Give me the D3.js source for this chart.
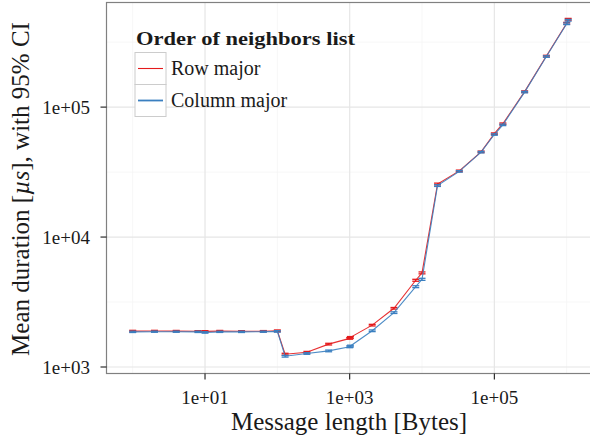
<!DOCTYPE html>
<html>
<head>
<meta charset="utf-8">
<script src="https://cdn.jsdelivr.net/npm/d3@7"></script>
<style>
  body { margin: 0; background: #fff; }
  text { font-family: "Liberation Serif", "Times New Roman", serif; fill: #1a1a1a; }
</style>
</head>
<body>
<div id="chart"></div>
<script>
// message sizes in bytes (powers of two and powers of ten)
const msgLen = [1, 2, 4, 8, 10, 16, 32, 64, 100, 128, 256, 512, 1000, 1024, 2048, 4096,
  8192, 10000, 16384, 32768, 65536, 100000, 131072, 262144, 524288, 1000000, 1048576];

// mean duration in microseconds
const rowMajor = [1890, 1895, 1890, 1885, 1880, 1890, 1885, 1885, 1900, 1255, 1300, 1500,
  1660, 1690, 2100, 2830, 4650, 5300, 25600, 32300, 45300, 62500, 74500, 131500, 247000,
  442000, 474000];
const colMajor = [1865, 1870, 1870, 1865, 1845, 1865, 1865, 1870, 1880, 1210, 1270, 1330,
  1430, 1450, 1900, 2620, 4150, 4730, 24900, 32000, 45000, 61500, 73000, 130500, 245000,
  438000, 466000];

// half width of the 95% confidence interval
const rowCi = [25, 20, 22, 20, 25, 22, 20, 22, 28, 20, 18, 22, 24, 25, 30, 40, 80, 90,
  400, 450, 600, 800, 1000, 1800, 3500, 7000, 7500];
const colCi = [22, 20, 20, 22, 24, 20, 22, 20, 25, 18, 18, 20, 22, 22, 28, 38, 70, 85,
  380, 420, 580, 780, 950, 1700, 3300, 6500, 7000];

const seriesNames = ['Row major', 'Column major'];
const seriesColors = ['#e41a1c', '#3a7fc0'];

const xTicks = [1e1, 1e3, 1e5];
const xMinor = [1e0, 1e2, 1e4, 1e6];
const yTicks = [1e3, 1e4, 1e5];
const yMinor = [Math.pow(10, 3.5), Math.pow(10, 4.5), Math.pow(10, 5.5)];

const width = 590, height = 438;
const panel = { left: 106.5, right: 592, top: 2.5, bottom: 373.5 };

const svg = d3.select('#chart')
  .append('svg')
  .attr('width', width)
  .attr('height', height);

const x = d3.scaleLog()
  .domain([Math.pow(10, -0.362), Math.pow(10, 6.35)])
  .range([panel.left, panel.right]);

const y = d3.scaleLog()
  .domain([Math.pow(10, 2.95), Math.pow(10, 5.805)])
  .range([panel.bottom, panel.top]);

// grid
const grid = svg.append('g');
grid.selectAll('.xminor').data(xMinor).enter().append('line')
  .attr('x1', d => x(d)).attr('x2', d => x(d))
  .attr('y1', panel.top).attr('y2', panel.bottom)
  .attr('stroke', '#f5f5f5').attr('stroke-width', 0.8);
grid.selectAll('.yminor').data(yMinor).enter().append('line')
  .attr('y1', d => y(d)).attr('y2', d => y(d))
  .attr('x1', panel.left).attr('x2', panel.right)
  .attr('stroke', '#f5f5f5').attr('stroke-width', 0.8);
grid.selectAll('.xmajor').data(xTicks).enter().append('line')
  .attr('x1', d => x(d)).attr('x2', d => x(d))
  .attr('y1', panel.top).attr('y2', panel.bottom)
  .attr('stroke', '#e6e6e6').attr('stroke-width', 1.2);
grid.selectAll('.ymajor').data(yTicks).enter().append('line')
  .attr('y1', d => y(d)).attr('y2', d => y(d))
  .attr('x1', panel.left).attr('x2', panel.right)
  .attr('stroke', '#e6e6e6').attr('stroke-width', 1.2);

// series
const series = [
  { mean: rowMajor, ci: rowCi },
  { mean: colMajor, ci: colCi }
];

const line = d3.line()
  .x(d => x(d.len))
  .y(d => y(d.mean));

const capHalf = 3.5;

series.forEach((s, i) => {
  const pts = msgLen.map((len, k) => ({ len: len, mean: s.mean[k], lo: s.mean[k] - s.ci[k], hi: s.mean[k] + s.ci[k] }));
  const g = svg.append('g');
  const color = seriesColors[i];

  g.append('path')
    .datum(pts)
    .attr('fill', 'none')
    .attr('stroke', color)
    .attr('stroke-width', 1.1)
    .attr('stroke-opacity', 0.9)
    .attr('d', line);

  const bars = g.selectAll('.err').data(pts).enter().append('g');
  bars.append('line')
    .attr('x1', d => x(d.len)).attr('x2', d => x(d.len))
    .attr('y1', d => y(d.lo)).attr('y2', d => y(d.hi))
    .attr('stroke', color).attr('stroke-width', 1.1);
  bars.append('line')
    .attr('x1', d => x(d.len) - capHalf).attr('x2', d => x(d.len) + capHalf)
    .attr('y1', d => y(d.lo)).attr('y2', d => y(d.lo))
    .attr('stroke', color).attr('stroke-width', 1.3);
  bars.append('line')
    .attr('x1', d => x(d.len) - capHalf).attr('x2', d => x(d.len) + capHalf)
    .attr('y1', d => y(d.hi)).attr('y2', d => y(d.hi))
    .attr('stroke', color).attr('stroke-width', 1.3);
});

// panel border
svg.append('rect')
  .attr('x', panel.left).attr('y', panel.top)
  .attr('width', panel.right - panel.left).attr('height', panel.bottom - panel.top)
  .attr('fill', 'none').attr('stroke', '#808080').attr('stroke-width', 1.2);

// axes
const xAxis = svg.append('g');
xAxis.selectAll('line').data(xTicks).enter().append('line')
  .attr('x1', d => x(d)).attr('x2', d => x(d))
  .attr('y1', panel.bottom).attr('y2', panel.bottom + 6)
  .attr('stroke', '#1a1a1a').attr('stroke-width', 1.1);
xAxis.selectAll('text').data(xTicks).enter().append('text')
  .attr('x', d => x(d)).attr('y', 404)
  .attr('text-anchor', 'middle')
  .style('font-size', '19px')
  .text(d => '1e+' + d3.format('02d')(Math.round(Math.log10(d))));

const yAxis = svg.append('g');
yAxis.selectAll('line').data(yTicks).enter().append('line')
  .attr('x1', panel.left - 6).attr('x2', panel.left)
  .attr('y1', d => y(d)).attr('y2', d => y(d))
  .attr('stroke', '#1a1a1a').attr('stroke-width', 1.1);
yAxis.selectAll('text').data(yTicks).enter().append('text')
  .attr('x', 90).attr('y', d => y(d) + 6.5)
  .attr('text-anchor', 'end')
  .style('font-size', '19px')
  .text(d => '1e+' + d3.format('02d')(Math.round(Math.log10(d))));

// axis titles
svg.append('text')
  .attr('x', 349).attr('y', 429.5)
  .attr('text-anchor', 'middle')
  .style('font-size', '25px')
  .text('Message length [Bytes]');

const yTitle = svg.append('text')
  .attr('transform', 'translate(29, 189) rotate(-90)')
  .attr('text-anchor', 'middle')
  .style('font-size', '25px');
yTitle.append('tspan').text('Mean duration [');
yTitle.append('tspan').style('font-style', 'italic').text('µs');
yTitle.append('tspan').text('], with 95% CI');

// legend
const legend = svg.append('g').attr('transform', 'translate(135, 0)');
legend.append('text')
  .attr('x', 1).attr('y', 45)
  .style('font-size', '19px')
  .style('font-weight', 'bold')
  .attr('textLength', 219)
  .attr('lengthAdjust', 'spacingAndGlyphs')
  .text('Order of neighbors list');

const keys = legend.selectAll('.key').data(seriesNames).enter().append('g')
  .attr('transform', (d, i) => `translate(0, ${52.5 + i * 32})`);
keys.append('rect')
  .attr('width', 31).attr('height', 32)
  .attr('fill', '#fff').attr('stroke', '#cccccc').attr('stroke-width', 1);
keys.append('line')
  .attr('x1', 3).attr('x2', 28).attr('y1', 16).attr('y2', 16)
  .attr('stroke', (d, i) => seriesColors[i])
  .attr('stroke-width', (d, i) => i === 0 ? 1.1 : 1.8);
keys.append('text')
  .attr('x', 36).attr('y', 22.5)
  .style('font-size', '20px')
  .text(d => d);
</script>
</body>
</html>
